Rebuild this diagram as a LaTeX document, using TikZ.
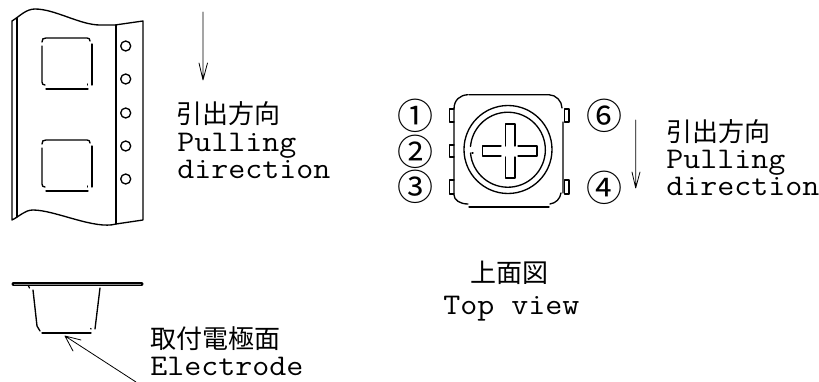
\documentclass[tikz,border=0pt]{standalone}
\usepackage{fontspec}
\newfontfamily\cjk{Noto Sans CJK JP}[Scale=1]
\begin{document}
\begin{tikzpicture}[x=0.75pt,y=-0.75pt,
  ln/.style={line width=1pt,black,line cap=round,line join=round},
  thin line/.style={line width=0.6pt,black,line cap=round,line join=round},
  lat/.style={inner sep=0pt,anchor=base west,xscale=1.1,transform shape,font=\fontsize{22.5}{22.5}\selectfont\ttfamily},
  jp/.style={inner sep=0pt,anchor=base west,font=\fontsize{19.5}{19.5}\selectfont\cjk},
  num/.style={inner sep=0pt,anchor=center,font=\fontsize{27}{27}\selectfont\cjk}]
\useasboundingbox (0,0) rectangle (819,382);
% tape
\draw[ln] (12,21) .. controls (20,16) and (26,9) .. (35,9) .. controls (55,9) and (80,25) .. (100,25) -- (115,25) -- (143,21) -- (143,220) -- (116,224) .. controls (95,230) and (55,210) .. (33,210) .. controls (25,210) and (20,216) .. (12,220) -- cycle;
\draw[ln] (17,18) -- (17,217);
\draw[ln] (116,25) -- (116,224);
\foreach \n/\y in {a/46,b/79,c/113,d/146,e/179}{\draw[ln] (125.7,\y) circle (5);}
\foreach \t in {38,140}{
  \draw[ln] (42,\t+4) .. controls (42,\t+1) and (43,\t) .. (46,\t) -- (87,\t) .. controls (89,\t) and (90,\t+1) .. (90,\t+3);
  \draw[ln] (42,\t+8) -- (42,\t+44) .. controls (42,\t+46) and (43,\t+47) .. (45,\t+47);
  \draw[ln] (92,\t+6) -- (92,\t+47);
  \draw[ln] (46,\t+51) -- (88,\t+51);
  \draw[ln] (87.5,\t+46) -- (87.5,\t+47);
}
% arrow at tape
\coordinate (a1s) at (203,12); \coordinate (a1e) at (203,80);
\draw[thin line] (a1s) -- (a1e) (199,63) -- (a1e) -- (207.500,63);
\node[jp] (t1) at (176,123) {引出方向};
\node[lat] (t2) at (177,151) {Pulling};
\node[lat] (t3) at (177,178) {direction};
% electrode
\draw[line width=3pt,black,line cap=round] (13.500,284) -- (141.500,284);
\draw[line width=0.7pt,black!45] (14,284) -- (141,284);
\draw[ln] (33,290) -- (37,326) -- (40,331);
\draw[ln] (28.500,286) -- (29.500,288);
\draw[ln] (100,288) -- (95,329);
\draw[ln] (42,333) -- (91,333);
\draw[ln] (90.700,328.500) -- (91,329);
\coordinate (a2s) at (136,382); \coordinate (a2e) at (65,336);
\draw[thin line] (a2s) -- (a2e) (81,340) -- (a2e) -- (73,351);
\node[jp] (t4) at (150,348) {取付電極面};
\node[lat] (t5) at (150,375) {Electrode};
% top view body
\draw[ln] (468,94.7) .. controls (460,95) and (454,100) .. (454,109) -- (454,195) .. controls (454,200) and (460,204) .. (468,204);
\draw[ln] (469,94.7) -- (549,94.7) .. controls (556,95) and (562,101) .. (562,108);
\draw[ln] (563,122) -- (563,193) (561,193) .. controls (560,199) and (556,203) .. (550,204);
\draw[ln] (469,207) -- (549,207);
\foreach \y/\h in {109/13,145/12,180/14}{\draw[ln] (454,\y) -- (449.500,\y) -- (449.500,\y+\h) -- (454,\y+\h);}
\foreach \y/\h in {109/13,180/14}{\draw[ln] (564.500,\y) rectangle (569,\y+\h);}
\draw[ln] (508,149.500) circle (44);
\draw[ln] (470.500,153) arc (175:-175:37.500);
\draw[ln] (472,153) -- (473,153);
% cross
\draw[ln] (505.500,146) -- (505.500,124) -- (515,124) -- (515,146);
\draw[ln] (505.500,157) -- (505.500,178) -- (515,178) -- (515,157);
\draw[ln] (501,146) -- (482.500,146) -- (482.500,156) -- (501,156);
\draw[ln] (518,146) -- (537,146) -- (537,156) -- (518,156);
% numbers
\node[num] (n1) at (415,116) {①};
\node[num] (n2) at (415,152) {②};
\node[num] (n3) at (415,187) {③};
\node[num] (n6) at (604,116) {⑥};
\node[num] (n4) at (604,188) {④};
\coordinate (a3s) at (635.700,120); \coordinate (a3e) at (635.700,188);
\draw[thin line] (a3s) -- (a3e) (632,172) -- (a3e) -- (640,172);
\node[jp] (t6) at (666,141) {引出方向};
\node[lat] (t7) at (666,168) {Pulling};
\node[lat] (t8) at (666,195) {direction};
\node[jp] (t9) at (470,282) {上面図};
\node[lat] (t10) at (443,314) {Top view};
\end{tikzpicture}
\end{document}
